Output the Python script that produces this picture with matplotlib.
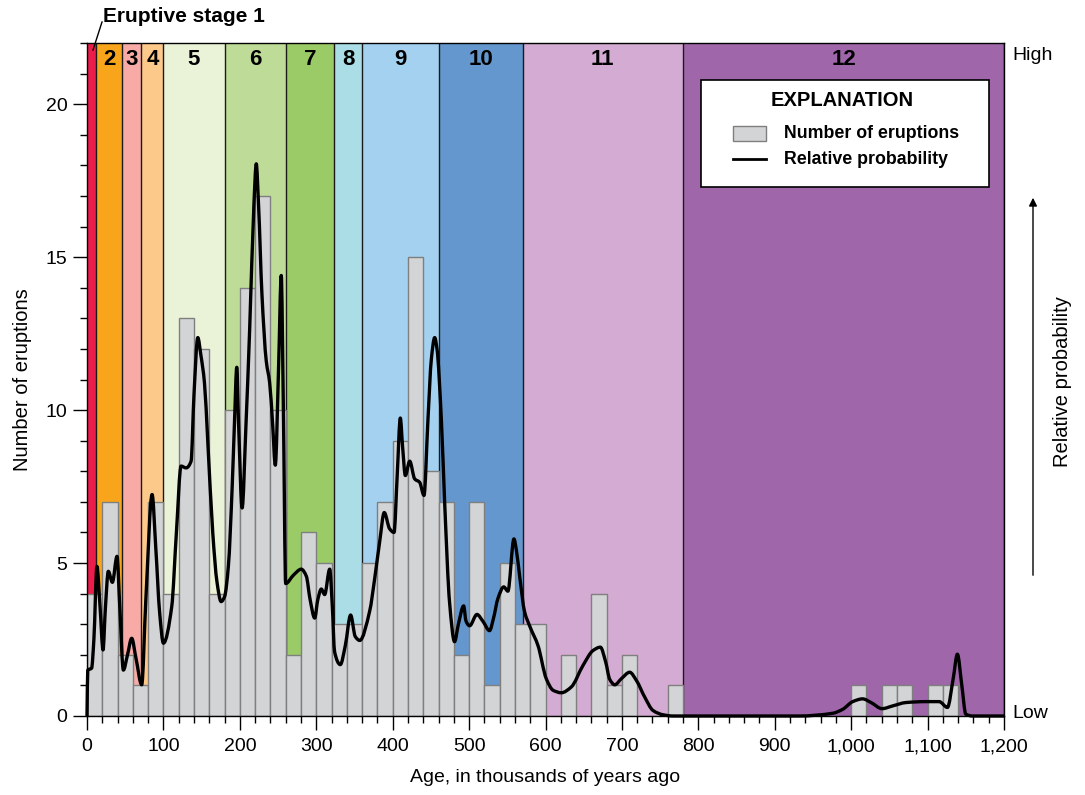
import matplotlib
matplotlib.use("Agg")
import matplotlib.pyplot as plt
from matplotlib.patches import Rectangle, PathPatch, FancyArrowPatch
from matplotlib.path import Path
from matplotlib.lines import Line2D
from matplotlib.ticker import MultipleLocator, FuncFormatter

plt.rcParams['font.family'] = ['Liberation Sans', 'DejaVu Sans']

# ---- data ----
bin_width = 20
bin_starts = list(range(0, 1200, 20))
eruptions = [4, 7, 2, 1, 7, 4, 13, 12, 4, 10,
             14, 17, 10, 2, 6, 5, 3, 3, 5, 7,
             9, 15, 8, 7, 2, 7, 1, 5, 3, 3,
             0, 2, 0, 4, 1, 2, 0, 0, 1, 0,
             0, 0, 0, 0, 0, 0, 0, 0, 0, 0,
             1, 0, 1, 1, 0, 1, 1, 0, 0, 0]

stage_labels = ['1', '2', '3', '4', '5', '6', '7', '8', '9', '10', '11', '12']
stage_bounds = [0, 12, 46, 71, 100, 180, 260, 323, 360, 460, 570, 780, 1200]
stage_colors = ['#EC1C4B', '#F9A51B', '#F8ABA6', '#FDC98A', '#EAF2D7', '#BEDC98',
                '#9BCB66', '#AADDE6', '#A3D1EF', '#6497CE', '#D4ABD2', '#9F66AA']

prob_age = [0, 1, 6, 9, 13, 17, 21, 24, 27.9, 33.2, 39.3, 43, 47.6, 53, 58.5, 64, 71.6,
            77, 85.2, 90, 95, 100, 110.9, 117, 123.1, 129.7, 136.2, 140, 145, 149, 153.7,
            158, 164.6, 170, 175.5, 180, 185, 190, 193, 196, 198.3, 203, 208, 212.8,
            218.4, 221.5, 224.5, 228.9, 234.6, 239, 243, 246.4, 250.7, 254.2, 256.9, 260,
            270, 280.4, 287, 292, 298, 302, 306.6, 311, 317.6, 321, 324, 331.5, 338, 345,
            351, 356.9, 370, 376.5, 383, 389, 396, 401.8, 406, 410, 413, 416.6, 422.3,
            428.8, 435.3, 441, 446.2, 450.6, 455, 458, 463.7, 468, 474.5, 481, 486, 492.9,
            496, 500.7, 510.3, 518, 526.8, 532, 537.7, 545.4, 550.8, 558.7, 562, 566.5,
            572.6, 580, 590.2, 601, 610, 620.7, 633.8, 649, 662.2, 671.8, 678.8, 684,
            690.6, 699.3, 710.2, 719, 729.8, 740.7, 753.8, 767, 932, 976, 989, 1002, 1015,
            1026, 1040.4, 1054.3, 1071.7, 1097.8, 1115.2, 1126, 1133.5, 1139, 1144.8,
            1150, 1158.7, 1200]
prob_val = [0, 1.5, 1.56, 2.5, 4.89, 3.6, 2.16, 3.5, 4.73, 4.37, 5.22, 3.5, 1.5, 2.0, 2.54,
            1.9, 1.02, 3.8, 7.24, 5.5, 3.4, 2.38, 3.58, 6.0, 8.17, 8.11, 8.33, 10.5, 12.37,
            11.8, 10.9, 9.0, 5.98, 4.4, 3.74, 3.9, 4.9, 7.5, 9.6, 11.4, 9.6, 6.8, 9.5, 12.6,
            16.7, 18.05, 16.7, 13.8, 11.6, 10.9, 9.5, 8.2, 11.4, 14.4, 10.2, 4.33, 4.6, 4.8,
            4.57, 3.8, 3.2, 3.8, 4.15, 3.97, 4.8, 3.6, 2.1, 1.68, 2.3, 3.3, 2.6, 2.47, 3.44,
            4.5, 5.7, 6.65, 6.12, 6.0, 7.9, 9.74, 8.8, 7.86, 8.33, 7.75, 7.64, 7.21, 9.7,
            11.66, 12.37, 12.0, 9.7, 7.0, 3.7, 2.43, 3.0, 3.6, 3.1, 2.95, 3.32, 3.1, 2.79,
            3.2, 3.84, 4.22, 4.08, 5.79, 5.4, 4.5, 3.41, 2.9, 2.3, 1.22, 0.84, 0.76, 0.95,
            1.65, 2.14, 2.25, 1.76, 1.2, 1.02, 1.22, 1.43, 1.16, 0.62, 0.18, 0.04, 0, 0,
            0.09, 0.22, 0.47, 0.56, 0.44, 0.24, 0.33, 0.44, 0.47, 0.47, 0.28, 1.22, 2.02,
            1.0, 0.06, 0, 0]

x_ticks = list(range(0, 1201, 100))


def smooth_path(xs, ys):
    """Bezier path through the given points (monotone cubic tangents)."""
    n = len(xs)
    h = [xs[i + 1] - xs[i] for i in range(n - 1)]
    d = [(ys[i + 1] - ys[i]) / h[i] for i in range(n - 1)]
    m = [0.0] * n
    m[0], m[-1] = d[0], d[-1]
    for k in range(1, n - 1):
        if d[k - 1] * d[k] <= 0:
            m[k] = 0.0
        else:
            w1 = 2 * h[k] + h[k - 1]
            w2 = h[k] + 2 * h[k - 1]
            m[k] = (w1 + w2) / (w1 / d[k - 1] + w2 / d[k])
    verts = [(xs[0], ys[0])]
    codes = [Path.MOVETO]
    for i in range(n - 1):
        verts += [(xs[i] + h[i] / 3, ys[i] + m[i] * h[i] / 3),
                  (xs[i + 1] - h[i] / 3, ys[i + 1] - m[i + 1] * h[i] / 3),
                  (xs[i + 1], ys[i + 1])]
        codes += [Path.CURVE4] * 3
    return Path(verts, codes)


# ---- figure ----
W, H = 1085, 795
fig = plt.figure(figsize=(W / 100, H / 100), dpi=100)
ax = fig.add_axes([87 / W, 1 - 716 / H, (1004 - 87) / W, (716 - 43) / H])
ax.set_xlim(0, 1200)
ax.set_ylim(0, 22)

# stages
for i, lab in enumerate(stage_labels):
    x0, x1 = stage_bounds[i], stage_bounds[i + 1]
    ax.axvspan(x0, x1, color=stage_colors[i], zorder=0, lw=0)
    ax.axvline(x1, color='#1a1a1a', lw=1.0, zorder=1)
    if lab != '1':
        ax.text((x0 + x1) / 2, 0.976, lab, transform=ax.get_xaxis_transform(),
                ha='center', va='center', fontsize=16, fontweight='bold', zorder=5)

# bars
ax.bar(bin_starts, eruptions, width=bin_width, align='edge', color='#D3D4D6',
       edgecolor='#7f7f7f', linewidth=1.0, zorder=2)

# curve
ax.add_patch(PathPatch(smooth_path(prob_age, prob_val), facecolor='none',
                       edgecolor='black', lw=2.4, zorder=4, joinstyle='round',
                       clip_on=False))

# axes styling
for s in ax.spines.values():
    s.set_linewidth(1.0)
    s.set_zorder(6)
ax.set_xticks(x_ticks)
ax.xaxis.set_minor_locator(MultipleLocator(20))
ax.yaxis.set_major_locator(MultipleLocator(5))
ax.yaxis.set_minor_locator(MultipleLocator(1))
ax.xaxis.set_major_formatter(FuncFormatter(lambda v, p: f"{int(v):,}"))
ax.tick_params(axis='x', which='major', length=10, width=1, labelsize=14, pad=6)
ax.tick_params(axis='x', which='minor', length=5, width=1)
ax.tick_params(axis='y', which='major', length=10, width=1, labelsize=14, pad=4)
ax.tick_params(axis='y', which='minor', length=5, width=1)

fig.text(22 / W, 1 - 380 / H, 'Number of eruptions', rotation=90, ha='center',
         va='center', fontsize=14.5)
fig.text(545 / W, 1 - 778 / H, 'Age, in thousands of years ago', ha='center',
         va='center', fontsize=14)

# stage 1 label
fig.text(103 / W, 1 - 17 / H, 'Eruptive stage 1', ha='left', va='center',
         fontsize=15, fontweight='bold')
fig.add_artist(Line2D([102 / W, 93 / W], [1 - 22 / H, 1 - 50 / H], color='black', lw=1.0))

# right side
fig.text(1012 / W, 1 - 55 / H, 'High', ha='left', va='center', fontsize=14)
fig.text(1012 / W, 1 - 713 / H, 'Low', ha='left', va='center', fontsize=14)
fig.text(1062 / W, 1 - 382 / H, 'Relative probability', rotation=90, ha='center',
         va='center', fontsize=14.5)
fig.add_artist(FancyArrowPatch(
    (1033 / W, 1 - 578 / H), (1033 / W, 1 - 195 / H), transform=fig.transFigure,
    arrowstyle='-|>', mutation_scale=12, color='black', lw=1.0))

# legend (manual)
def ax_x(px):
    return (px - 87) / 917


def ax_y(py):
    return (716 - py) / 673


ax.add_patch(Rectangle((ax_x(701), ax_y(187)), ax_x(989) - ax_x(701), ax_y(80) - ax_y(187),
                       transform=ax.transAxes, facecolor='white', edgecolor='black',
                       lw=1.2, zorder=7))
ax.text(ax_x(842), ax_y(101), 'EXPLANATION', transform=ax.transAxes, ha='center',
        va='center', fontsize=14.5, fontweight='bold', zorder=8)
ax.add_patch(Rectangle((ax_x(733), ax_y(141)), ax_x(766) - ax_x(733), ax_y(126) - ax_y(141),
                       transform=ax.transAxes, facecolor='#D3D4D6', edgecolor='#7f7f7f',
                       lw=1.0, zorder=8))
ax.add_line(Line2D([ax_x(733), ax_x(766)], [ax_y(159), ax_y(159)], transform=ax.transAxes,
                   color='black', lw=2.0, zorder=8))
ax.text(ax_x(784), ax_y(133), 'Number of eruptions', transform=ax.transAxes, ha='left',
        va='center', fontsize=12.8, fontweight='bold', zorder=8)
ax.text(ax_x(784), ax_y(159), 'Relative probability', transform=ax.transAxes, ha='left',
        va='center', fontsize=12.8, fontweight='bold', zorder=8)

fig.savefig('out.png', dpi=100)
